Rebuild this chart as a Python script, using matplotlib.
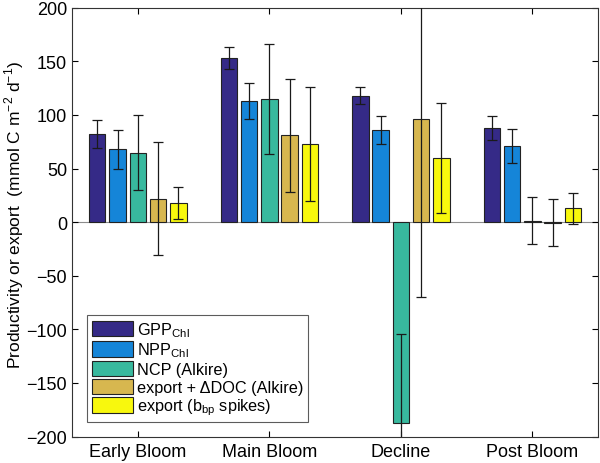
import numpy as np
import matplotlib
matplotlib.use("Agg")
import matplotlib.pyplot as plt

plt.rcParams['font.family'] = ['Liberation Sans', 'DejaVu Sans']
plt.rcParams['mathtext.fontset'] = 'custom'
plt.rcParams['mathtext.rm'] = 'Liberation Sans'

stages = ["Early Bloom", "Main Bloom", "Decline", "Post Bloom"]
labels = [r"GPP$_{\rm Chl}$", r"NPP$_{\rm Chl}$", "NCP (Alkire)",
          "export + \u0394DOC (Alkire)", r"export (b$_{\rm bp}$ spikes)"]
colors = ["#352A87", "#1585D8", "#38B99E", "#D7B74F", "#F8F80D"]

gpp = [82, 153, 118, 88]
npp = [68, 113, 86, 71]
ncp = [65, 115, -187, 1.5]
exp_doc = [22, 81, 96, -0.5]
exp_bbp = [18, 73, 60, 13]
gpp_err = [13, 10.5, 8, 11]
npp_err = [18, 17, 13, 16]
ncp_err = [35, 51, 83, 22]
exp_doc_err = [53, 53, 166, 22]
exp_bbp_err = [15, 53, 51, 14.5]

series = [gpp, npp, ncp, exp_doc, exp_bbp]
errors = [gpp_err, npp_err, ncp_err, exp_doc_err, exp_bbp_err]

fig, ax = plt.subplots(figsize=(6, 4.64), dpi=100)
fig.subplots_adjust(left=0.12, right=0.997, top=0.981, bottom=0.057)

x = np.arange(1, 5)
step = 0.154
width = 0.125
ax.axhline(0, color="#8c8c8c", lw=0.8, zorder=1)
for i in range(5):
    pos = x + (i - 2) * step
    ax.bar(pos, series[i], width, color=colors[i], edgecolor="#222222",
           linewidth=0.8, label=labels[i], zorder=2)
    ax.errorbar(pos, series[i], yerr=errors[i], fmt="none", ecolor="#1a1a1a",
                elinewidth=0.9, capsize=3.5, capthick=0.9, zorder=3)

ax.set_xlim(0.5, 4.5)
ax.set_ylim(-200, 200)
ax.set_xticks(x)
ax.set_xticklabels(stages, fontsize=13)
ax.set_yticks(np.arange(-200, 201, 50))
ax.tick_params(axis="y", labelsize=13)
ax.tick_params(axis="x", pad=5)
ax.tick_params(direction="in", top=True, right=True, length=4, width=0.8)
ax.set_ylabel(r"Productivity or export  (mmol C m$^{-2}$ d$^{-1}$)", fontsize=12.5)
ax.yaxis.set_label_coords(-0.088, 0.52)
for s in ax.spines.values():
    s.set_linewidth(0.8)
    s.set_color("#333333")

leg = ax.legend(loc="lower left", bbox_to_anchor=(0.02, 0.022), fontsize=11.7,
                frameon=True, fancybox=False, edgecolor="#333333",
                handlelength=2.5, handleheight=1.1, labelspacing=0.1,
                handletextpad=0.25, borderpad=0.3, borderaxespad=0.3)
leg.get_frame().set_linewidth(0.8)

fig.savefig("out.png", dpi=100)
